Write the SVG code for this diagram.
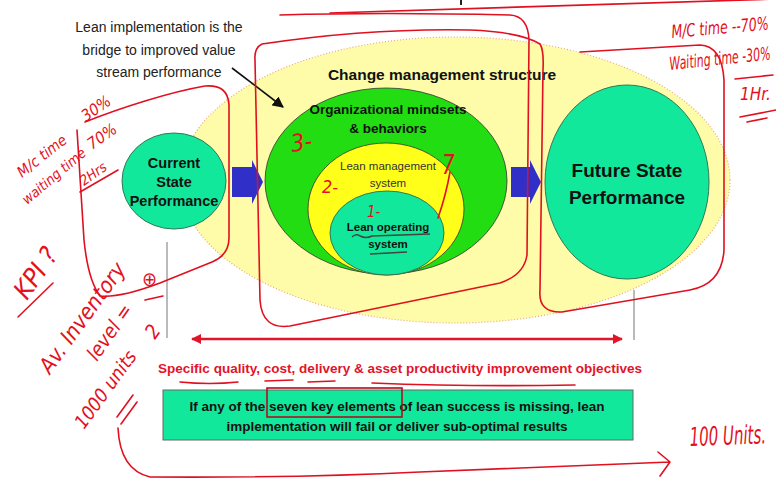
<svg xmlns="http://www.w3.org/2000/svg" width="776" height="484" viewBox="0 0 776 484">
  <defs>
    <style>
      .sans { font-family: "Liberation Sans", Arial, sans-serif; }
      .b { font-weight: bold; }
      .dark { fill: #111; }
      .hw { font-family: "Liberation Sans Narrow", "DejaVu Sans Condensed", sans-serif; font-style: italic; fill: #E3101E; }
      .ink { fill: none; stroke: #E01020; stroke-width: 1.6; stroke-linecap: round; stroke-linejoin: round; }
      .teal { fill: #12E89B; stroke: #2E7A55; stroke-width: 1; }
    </style>
    <marker id="blackHead" viewBox="0 0 10 10" refX="9" refY="5" markerWidth="7" markerHeight="7" orient="auto">
      <path d="M0,0 L10,5 L0,10 z" fill="#111"/>
    </marker>
    <marker id="redHead" viewBox="0 0 10 10" refX="9" refY="5" markerWidth="4" markerHeight="4" orient="auto-start-reverse">
      <path d="M0,0 L10,5 L0,10 z" fill="#E2142A"/>
    </marker>
  </defs>

  <rect width="776" height="484" fill="#fff"/>

  <!-- descender of the clipped slide title -->
  <rect x="460" y="0" width="2" height="5" fill="#222"/>

  <!-- outer change management structure -->
  <g id="change-structure">
    <ellipse cx="455" cy="180" rx="275" ry="143" fill="#FEFCA8" stroke="#E9A97A" stroke-width="1.2" stroke-dasharray="1 2"/>
    <text class="sans b dark" x="442" y="80" font-size="15.5" text-anchor="middle">Change management structure</text>
  </g>

  <g id="org-mindsets">
    <ellipse cx="386" cy="181" rx="121" ry="93" fill="#22DD11" stroke="#333" stroke-width="0.8"/>
    <text class="sans b dark" x="388" y="114" font-size="13.5" text-anchor="middle">Organizational mindsets</text>
    <text class="sans b dark" x="388" y="133" font-size="13.5" text-anchor="middle">&amp; behaviors</text>
  </g>

  <g id="lean-management">
    <ellipse cx="386" cy="209" rx="78" ry="66" fill="#FFFF1A" stroke="#333" stroke-width="0.8"/>
    <text class="sans" x="388" y="170" font-size="11.5" fill="#333" text-anchor="middle">Lean management</text>
    <text class="sans" x="388" y="187" font-size="11.5" fill="#333" text-anchor="middle">system</text>
  </g>

  <g id="lean-operating">
    <ellipse class="teal" cx="387" cy="233" rx="57" ry="42"/>
    <text class="sans b dark" x="388" y="231" font-size="11.5" text-anchor="middle">Lean operating</text>
    <text class="sans b dark" x="388" y="248" font-size="11.5" text-anchor="middle">system</text>
  </g>

  <g id="current-state">
    <ellipse class="teal" cx="174" cy="181" rx="52" ry="48"/>
    <text class="sans b dark" x="174" y="168" font-size="14.5" text-anchor="middle">Current</text>
    <text class="sans b dark" x="174" y="187" font-size="14.5" text-anchor="middle">State</text>
    <text class="sans b dark" x="174" y="206" font-size="14.5" text-anchor="middle">Performance</text>
  </g>

  <g id="future-state">
    <ellipse class="teal" cx="627" cy="182" rx="82" ry="97"/>
    <text class="sans b dark" x="627" y="177" font-size="19" text-anchor="middle">Future State</text>
    <text class="sans b dark" x="627" y="204" font-size="19" text-anchor="middle">Performance</text>
  </g>

  <g id="bridge-note">
    <text class="sans" x="159" y="32" font-size="14" fill="#222" text-anchor="middle">Lean implementation is the</text>
    <text class="sans" x="159" y="55" font-size="14" fill="#222" text-anchor="middle">bridge to improved value</text>
    <text class="sans" x="159" y="77" font-size="14" fill="#222" text-anchor="middle">stream performance</text>
  </g>

  <g id="objectives">
    <text class="sans b" x="400" y="373" font-size="12.5" fill="#E2142A" text-anchor="middle" textLength="484" lengthAdjust="spacingAndGlyphs">Specific quality, cost, delivery &amp; asset productivity improvement objectives</text>
  </g>

  <g id="warning-box">
    <rect x="163" y="390" width="470" height="50" fill="#12E89B" stroke="#666" stroke-width="1"/>
    <text class="sans b dark" x="397" y="411" font-size="12.5" text-anchor="middle" textLength="415" lengthAdjust="spacingAndGlyphs">If any of the seven key elements of lean success is missing, lean</text>
    <text class="sans b dark" x="397" y="431" font-size="12.5" text-anchor="middle" textLength="341" lengthAdjust="spacingAndGlyphs">implementation will fail or deliver sub-optimal results</text>
  </g>

  <!-- connectors -->
  <g id="connectors">
    <path d="M232,197 V167 H252 V160 L263,182 L252,204 V197 Z" fill="#3030C8"/>
    <path d="M511,197 V167 H530 V160 L541,182 L530,204 V197 Z" fill="#3030C8"/>
    <line x1="232" y1="68" x2="283" y2="107" stroke="#111" stroke-width="1.6" marker-end="url(#blackHead)"/>
    <line x1="167" y1="242" x2="167" y2="338" stroke="#777" stroke-width="1"/>
    <line x1="634" y1="290" x2="634" y2="340" stroke="#777" stroke-width="1"/>
    <line x1="192" y1="339" x2="622" y2="339" stroke="#E2142A" stroke-width="2.5" marker-start="url(#redHead)" marker-end="url(#redHead)"/>
  </g>

  <!-- pen annotations -->
  <g id="annotations">
    <rect x="267" y="388" width="135" height="29" fill="none" stroke="#B01020" stroke-width="1.6"/>
    <path d="M352,237 q4,-4 8,-1 q6,3 12,0 L430,234 M370,254 L407,252" fill="none" stroke="#444" stroke-width="1.4"/>
    <path class="ink" d="M180,382 Q210,385 238,382 M265,381 L293,380 M308,382 L335,381 M372,383 Q470,387 575,385" stroke-width="1.1"/>

    <path class="ink" d="M85,122 C120,108 170,92 205,86 Q228,84 229,105 L229,238 Q229,255 212,262 L160,283 Q120,298 100,296 Q88,280 84,240 L77,130"/>
    <path class="ink" d="M280,15 Q380,12 510,15 Q528,16 529,40 L527,255 Q524,275 500,283 L290,326 Q262,330 260,300 L255,60 Q254,48 262,44 Q370,28 470,30 Q520,32 540,44 Q544,50 543,70 L540,290 Q538,313 562,312 L690,290 Q722,284 724,250 L724,80 Q722,46 700,45 L580,52"/>
    <path class="ink" d="M330,13 Q550,6 776,-1"/>
    <path class="ink" d="M118,428 Q120,470 150,477 Q300,478 420,472 Q560,466 670,462 M658,452 L670,462 L660,476"/>
    <path class="ink" d="M117,417 L133,395 M121,424 L137,402"/>
    <path class="ink" d="M80,192 L118,170 M18,317 L53,283 M145,300 L163,296 M735,79 L773,75 M740,117 L776,110 M747,122 L767,118"/>
    <!-- long tail under the handwritten seven -->
    <path class="ink" d="M450,172 Q446,195 438,218"/>

    <text class="hw" font-size="15" transform="translate(22,178) rotate(-38)">M/c time</text>
    <text class="hw" font-size="16" transform="translate(86,122) rotate(-35)">30%</text>
    <text class="hw" font-size="14" transform="translate(27,205) rotate(-40)">waiting time</text>
    <text class="hw" font-size="16" transform="translate(92,150) rotate(-35)">70%</text>
    <text class="hw" font-size="14" transform="translate(84,186) rotate(-35)">2Hrs</text>
    <text class="hw" font-size="26" transform="translate(27,301) rotate(-55)">KPI ?</text>
    <text class="hw" font-size="22" transform="translate(50,375) rotate(-54)">Av. Inventory</text>
    <text class="hw" font-size="20" transform="translate(97,362) rotate(-55)">level =</text>
    <text class="hw" font-size="20" x="142" y="286" font-style="normal">⊕</text>
    <text class="hw" font-size="20" transform="translate(155,340) rotate(-55)">2</text>
    <text class="hw" font-size="19" transform="translate(84,430) rotate(-54)">1000 units</text>

    <text class="hw" font-size="18" transform="translate(672,38) rotate(-5) scale(0.78,1)">M/C time --70%</text>
    <text class="hw" font-size="18" transform="translate(670,70) rotate(-6) scale(0.68,1)">Waiting time -30%</text>
    <text class="hw" font-size="17" x="740" y="100">1Hr.</text>
    <text class="hw" font-size="26" transform="translate(690,446) rotate(-2) scale(0.64,1)">100 Units.</text>

    <text class="hw" font-size="24" transform="translate(292,152) rotate(-8)">3-</text>
    <text class="hw" font-size="18" x="322" y="193">2-</text>
    <text class="hw" font-size="15" x="367" y="217">1-</text>
    <text class="hw" font-size="22" transform="translate(442,174) scale(1,1.2)">7</text>
  </g>
</svg>
